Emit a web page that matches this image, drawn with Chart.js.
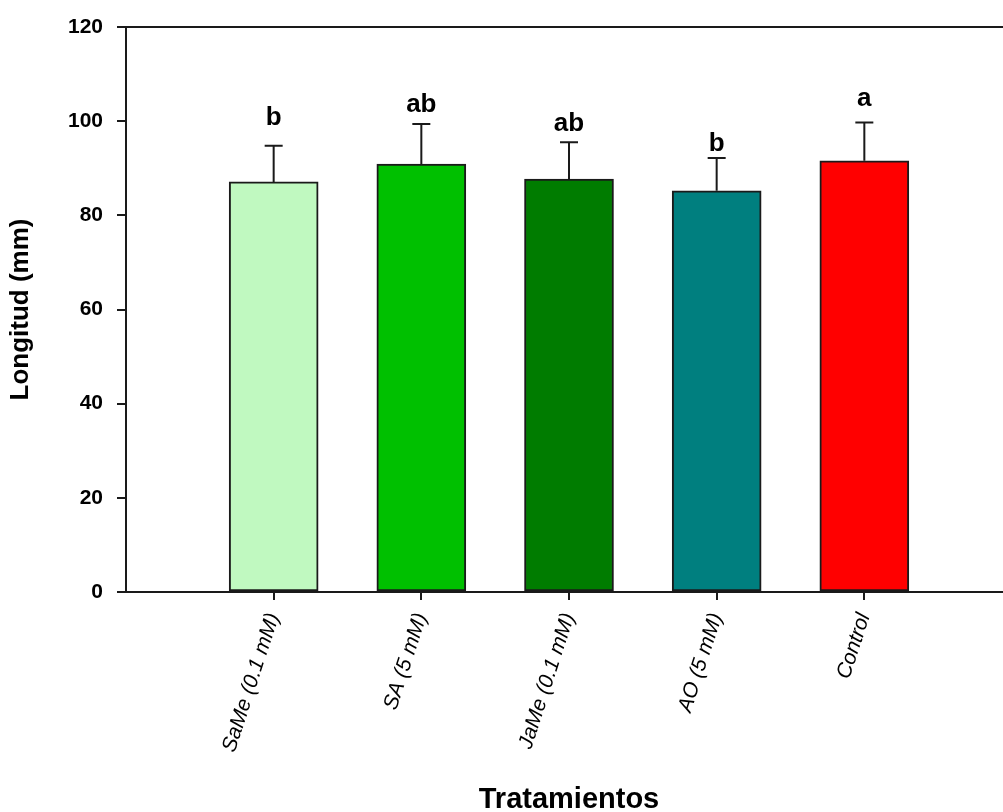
<!DOCTYPE html>
<html>
<head>
<meta charset="utf-8">
<script src="https://cdn.jsdelivr.net/npm/chart.js@4/dist/chart.umd.min.js"></script>
<style>
  html, body { margin: 0; padding: 0; background: #fff; overflow: hidden; }
  #wrap { width: 1012px; height: 812px; }
</style>
</head>
<body>
<div id="wrap"><canvas id="c" width="1012" height="812"></canvas></div>
<script>
// Treatments (categories)
const treatments = ['SaMe (0.1 mM)', 'SA (5 mM)', 'JaMe (0.1 mM)', 'AO (5 mM)', 'Control'];
// Mean length (mm)
const meanLength = [87.1, 90.9, 87.7, 85.2, 91.6];
// Standard deviation (mm)
const sdLength = [7.7, 8.5, 7.8, 7.0, 8.1];
// Significance letters
const sigLetters = ['b', 'ab', 'ab', 'b', 'a'];
// Y-axis ticks
const yTicks = [0, 20, 40, 60, 80, 100, 120];

// Bar fill colours
const barColors = ['#c0f9c0', '#00c000', '#007c00', '#007f7f', '#ff0000'];
// Pixel lift of each letter above its whisker cap
const letterLift = [21, 12, 11, 7, 17];

const FONT = '"Liberation Sans", Arial, Helvetica, sans-serif';
const INK = '#1a1a1a';

const positions = treatments.map((_, i) => i + 1);

// Whiskers (upper only) and letters
const errorBars = {
  id: 'errorBars',
  afterDatasetsDraw(chart) {
    const meta = chart.getDatasetMeta(0);
    const y = chart.scales.y;
    const ctx = chart.ctx;
    ctx.save();
    ctx.strokeStyle = INK;
    ctx.lineWidth = 2;
    meta.data.forEach((bar, i) => {
      const x = bar.x;
      const yBar = y.getPixelForValue(meanLength[i]);
      const yTop = y.getPixelForValue(meanLength[i] + sdLength[i]);
      ctx.beginPath();
      ctx.moveTo(x, yBar);
      ctx.lineTo(x, yTop);
      ctx.moveTo(x - 9, yTop);
      ctx.lineTo(x + 9, yTop);
      ctx.stroke();
      ctx.fillStyle = '#000';
      ctx.font = 'bold 26px ' + FONT;
      ctx.textAlign = 'center';
      ctx.textBaseline = 'alphabetic';
      ctx.fillText(sigLetters[i], x, yTop - letterLift[i]);
    });
    ctx.restore();
  }
};

// Top edge of the plot frame
const frameTop = {
  id: 'frameTop',
  afterDraw(chart) {
    const a = chart.chartArea;
    const ctx = chart.ctx;
    ctx.save();
    ctx.strokeStyle = INK;
    ctx.lineWidth = 2;
    ctx.beginPath();
    ctx.moveTo(a.left, a.top);
    ctx.lineTo(a.right, a.top);
    ctx.stroke();
    ctx.restore();
  }
};

new Chart(document.getElementById('c'), {
  type: 'bar',
  data: {
    datasets: [{
      data: positions.map((p, i) => ({ x: p, y: meanLength[i] })),
      backgroundColor: barColors,
      borderColor: INK,
      borderWidth: 2,
      borderSkipped: false,
      barThickness: 89
    }]
  },
  options: {
    responsive: false,
    animation: false,
    devicePixelRatio: 1,
    layout: { padding: { top: 27, left: 0, right: 0, bottom: 0 } },
    plugins: { legend: { display: false }, tooltip: { enabled: false } },
    scales: {
      x: {
        type: 'linear',
        min: 0,
        max: 6,
        offset: false,
        afterBuildTicks(axis) { axis.ticks = positions.map(v => ({ value: v })); },
        afterFit(axis) { axis.height = 220; },
        grid: { offset: false, drawOnChartArea: false, drawTicks: true, tickLength: 8, color: INK, lineWidth: 2 },
        border: { display: true, color: INK, width: 2 },
        ticks: {
          autoSkip: false,
          minRotation: 72,
          maxRotation: 72,
          padding: 10,
          color: '#000',
          font: { family: FONT, size: 21, style: 'italic' },
          callback: (v, i) => treatments[i]
        },
        title: {
          display: true,
          text: 'Tratamientos',
          color: '#000',
          font: { family: FONT, size: 29, weight: 'bold', lineHeight: 0.8 },
          padding: { top: 0, bottom: 0 }
        }
      },
      y: {
        min: 0,
        max: 120,
        afterBuildTicks(axis) { axis.ticks = yTicks.map(v => ({ value: v })); },
        afterFit(axis) { axis.width = 126; },
        grid: { drawOnChartArea: false, drawTicks: true, tickLength: 9, color: INK, lineWidth: 2 },
        border: { display: true, color: INK, width: 2 },
        ticks: {
          padding: 14,
          color: '#000',
          font: { family: FONT, size: 21, weight: 'bold' }
        },
        title: {
          display: true,
          text: 'Longitud (mm)',
          color: '#000',
          font: { family: FONT, size: 26, weight: 'bold', lineHeight: 1 },
          padding: { top: 8, bottom: 0 }
        }
      }
    }
  },
  plugins: [errorBars, frameTop]
});
</script>
</body>
</html>
